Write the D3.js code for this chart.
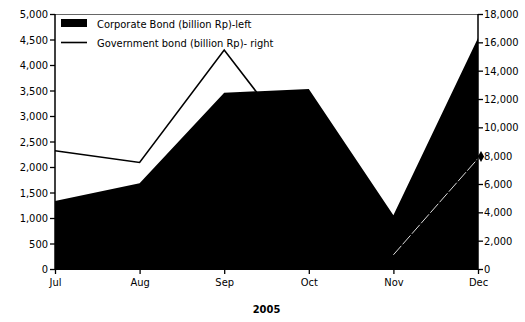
<!DOCTYPE html>
<html><head><meta charset="utf-8">
<script src="https://cdn.jsdelivr.net/npm/d3@7"></script>
<style>
body{margin:0;background:#fff;}
text{font-family:"DejaVu Sans Condensed","DejaVu Sans",sans-serif;}
</style></head>
<body><svg id="c" width="525" height="322"></svg>
<script>
const months = ["Jul","Aug","Sep","Oct","Nov","Dec"];
const corporate = [1335, 1680, 3455, 3530, 1055, 4530];
const government = [8350, 7520, 15450, 7700, 1000, 7800];
const leftTicks = [0,500,1000,1500,2000,2500,3000,3500,4000,4500,5000];
const rightTicks = [0,2000,4000,6000,8000,10000,12000,14000,16000,18000];
const xTitle = "2005";
const legendLabels = ["Corporate Bond (billion Rp)-left","Government bond (billion Rp)- right"];

const svg = d3.select("#c");
const L=55, R=478, T=14, B=269;
const x = d3.scalePoint().domain(months).range([L,R]);
const yL = d3.scaleLinear().domain([0,5000]).range([B,T]);
const yR = d3.scaleLinear().domain([0,18000]).range([B,T]);

// top border
svg.append("line").attr("x1",L).attr("x2",R).attr("y1",T+0.5).attr("y2",T+0.5)
  .attr("stroke","#666").attr("stroke-width",1);

// government line
const line = d3.line().x((d,i)=>x(months[i])).y(d=>yR(d));
svg.append("path").datum(government).attr("d",line)
  .attr("fill","none").attr("stroke","#000").attr("stroke-width",1.6).attr("stroke-linejoin","miter");

// corporate area
const area = d3.area().x((d,i)=>x(months[i])).y0(B).y1(d=>yL(d));
svg.append("path").datum(corporate).attr("d",area).attr("fill","#000");

// last segment visible as light dashed line inside the area
const n = government.length;
svg.append("line")
  .attr("x1",x(months[n-2])).attr("y1",yR(government[n-2]))
  .attr("x2",x(months[n-1])).attr("y2",yR(government[n-1]))
  .attr("stroke","#ddd").attr("stroke-width",1).attr("stroke-dasharray","12,2");
svg.append("path").attr("d",d3.symbol(d3.symbolDiamond,34)())
  .attr("transform",`translate(${x(months[n-1])+3},${yR(government[n-1])-2})`).attr("fill","#000");

// left axis
const gl = svg.append("g").attr("transform",`translate(${L},0)`)
  .call(d3.axisLeft(yL).tickValues(leftTicks).tickSize(5).tickPadding(2).tickFormat(d3.format(",")));
gl.select(".domain").remove();
gl.selectAll("text").attr("font-size",11).attr("fill","#000");
gl.selectAll(".tick line").attr("stroke","#000").attr("stroke-width",1.3);
svg.append("line").attr("x1",L).attr("x2",L).attr("y1",T).attr("y2",B+1).attr("stroke","#000").attr("stroke-width",1.5);

// right axis
const gr = svg.append("g").attr("transform",`translate(${R},0)`)
  .call(d3.axisRight(yR).tickValues(rightTicks).tickSize(5).tickPadding(1).tickFormat(d3.format(",")));
gr.select(".domain").remove();
gr.selectAll("text").attr("font-size",11).attr("fill","#000");
gr.selectAll(".tick line").attr("stroke","#000").attr("stroke-width",1.3);
svg.append("line").attr("x1",R).attr("x2",R).attr("y1",T).attr("y2",B+1).attr("stroke","#000").attr("stroke-width",1.5);

// bottom axis
const gb = svg.append("g").attr("transform",`translate(0,${B})`)
  .call(d3.axisBottom(x).tickSize(5).tickPadding(4));
gb.select(".domain").attr("stroke","#000").attr("d",`M${L},0.5H${R}`);
gb.selectAll("text").attr("font-size",11).attr("fill","#000");
gb.selectAll(".tick line").attr("stroke","#000").attr("stroke-width",1.3);

svg.append("text").attr("x",(L+R)/2).attr("y",313).attr("text-anchor","middle")
  .attr("font-size",11).attr("font-weight","bold").text(xTitle);

// legend
svg.append("rect").attr("x",61).attr("y",19).attr("width",26).attr("height",8).attr("fill","#000");
svg.append("line").attr("x1",61).attr("x2",87).attr("y1",42.5).attr("y2",42.5).attr("stroke","#000").attr("stroke-width",1.6);
svg.append("text").attr("x",97).attr("y",28).attr("font-size",11).text(legendLabels[0]);
svg.append("text").attr("x",97).attr("y",46.5).attr("font-size",11).text(legendLabels[1]);
</script></body></html>
